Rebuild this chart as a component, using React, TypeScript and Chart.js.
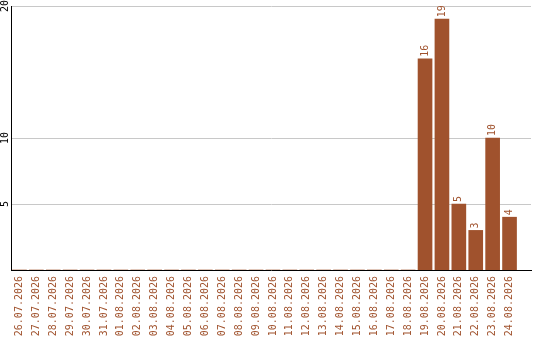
import { useEffect, useRef } from "react";
import { Chart, registerables } from "chart.js";

Chart.register(...registerables);

// Daily counts, 26.07.2026 – 24.08.2026
const dates = [
  "26.07.2026", "27.07.2026", "28.07.2026", "29.07.2026", "30.07.2026",
  "31.07.2026", "01.08.2026", "02.08.2026", "03.08.2026", "04.08.2026",
  "05.08.2026", "06.08.2026", "07.08.2026", "08.08.2026", "09.08.2026",
  "10.08.2026", "11.08.2026", "12.08.2026", "13.08.2026", "14.08.2026",
  "15.08.2026", "16.08.2026", "17.08.2026", "18.08.2026", "19.08.2026",
  "20.08.2026", "21.08.2026", "22.08.2026", "23.08.2026", "24.08.2026",
];
const counts = [
  0, 0, 0, 0, 0,
  0, 0, 0, 0, 0,
  0, 0, 0, 0, 0,
  0, 0, 0, 0, 0,
  0, 0, 0, 0, 16,
  19, 5, 3, 10, 4,
];
const yTicks = [5, 10, 20];

const BAR = "#a0522d";
const FONT = "'DejaVu Sans Mono', monospace";

// Rotated value labels above the bars and rotated y tick labels
const labelsPlugin = {
  id: "rotatedLabels",
  afterDatasetsDraw(chart: any) {
    const ctx = chart.ctx;
    const meta = chart.getDatasetMeta(0);
    ctx.save();
    ctx.font = `10px ${FONT}`;
    ctx.fillStyle = BAR;
    ctx.textAlign = "left";
    ctx.textBaseline = "middle";
    meta.data.forEach((bar: any, i: number) => {
      const v = counts[i];
      if (!v) return;
      ctx.save();
      ctx.translate(bar.x, bar.y - 2);
      ctx.rotate(-Math.PI / 2);
      ctx.fillText(String(v), 0, 0);
      ctx.restore();
    });
    const ys = chart.scales.y;
    ctx.fillStyle = "#000";
    ctx.textAlign = "center";
    ys.ticks.forEach((t: any) => {
      ctx.save();
      ctx.translate(5, Math.max(ys.getPixelForValue(t.value), 5));
      ctx.rotate(-Math.PI / 2);
      ctx.fillText(String(t.value), 0, 0);
      ctx.restore();
    });
    ctx.restore();
  },
};

export default function App() {
  const ref = useRef<HTMLCanvasElement | null>(null);

  useEffect(() => {
    document.body.style.margin = "0";
    const canvas = ref.current;
    if (!canvas) return;
    const chart = new Chart(canvas, {
      type: "bar",
      data: {
        datasets: [
          {
            data: counts.map((v, i) => ({ x: i, y: v })),
            backgroundColor: BAR,
            borderWidth: 0,
            barThickness: 14,
          },
        ],
      },
      options: {
        animation: false,
        responsive: false,
        events: [],
        layout: { padding: { top: 6, right: 9, left: 0, bottom: 0 } },
        plugins: { legend: { display: false }, tooltip: { enabled: false } },
        scales: {
          x: {
            type: "linear",
            offset: false,
            min: -0.5,
            max: 30.27,
            grid: { display: false, drawTicks: false },
            border: { display: true, color: "#000", width: 1 },
            afterBuildTicks: (s: any) => {
              s.ticks = dates.map((_, i) => ({ value: i }));
            },
            afterFit: (s: any) => {
              s.height = 70;
            },
            ticks: {
              autoSkip: false,
              minRotation: 90,
              maxRotation: 90,
              padding: 6,
              color: BAR,
              font: { family: FONT, size: 10 },
              callback: (v: any) => dates[v] ?? "",
            },
          },
          y: {
            min: 0,
            max: 20,
            grid: { color: "#c8c8c8", lineWidth: 1, drawTicks: false },
            border: { display: true, color: "#000", width: 1 },
            afterBuildTicks: (s: any) => {
              s.ticks = yTicks.map((v) => ({ value: v }));
            },
            afterFit: (s: any) => {
              s.width = 11;
            },
            ticks: { display: false },
          },
        },
      },
      plugins: [labelsPlugin],
    });
    return () => chart.destroy();
  }, []);

  return (
    <div style={{ position: "fixed", left: 0, top: 0, width: 540, height: 340, background: "#fff" }}>
      <canvas ref={ref} width={540} height={340} />
    </div>
  );
}
